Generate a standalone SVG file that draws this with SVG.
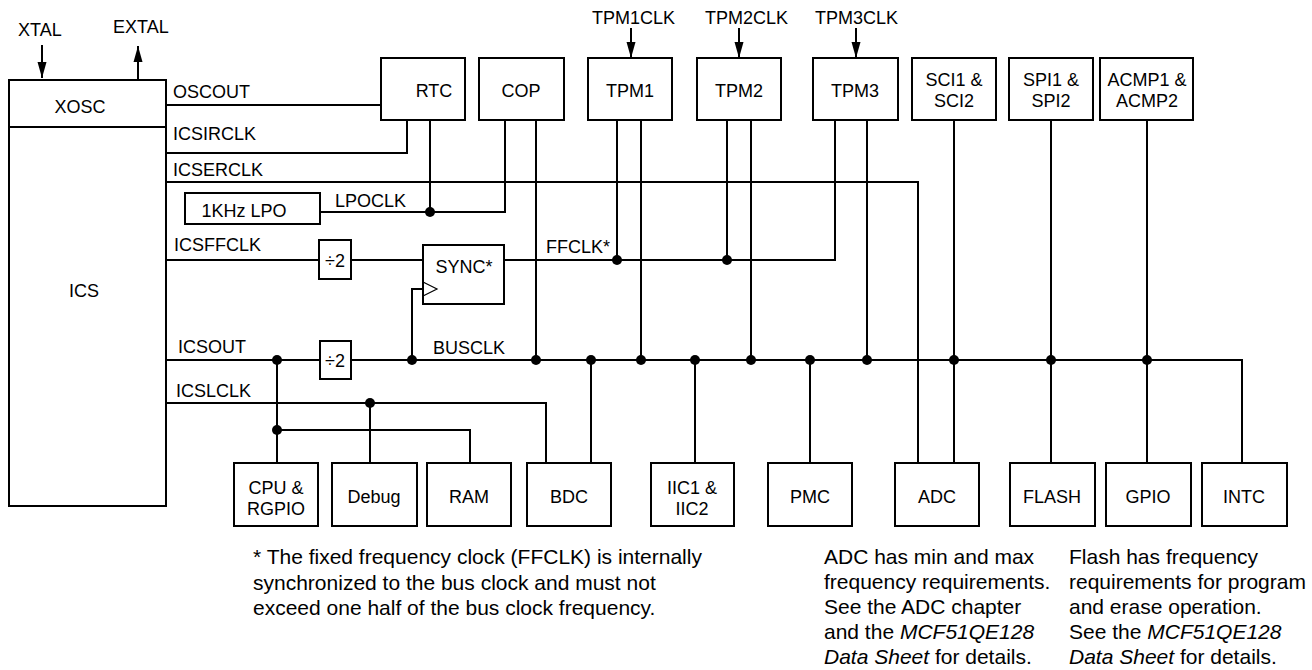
<svg xmlns="http://www.w3.org/2000/svg" width="1312" height="670" viewBox="0 0 1312 670">
<style>
.box{fill:#fff;stroke:#000;stroke-width:2}
.ln{fill:none;stroke:#000;stroke-width:2}
.thin{fill:none;stroke:#000;stroke-width:1.2}
text{font-family:"Liberation Sans",Arial,Helvetica,sans-serif;fill:#000}
.l{font-size:18px}
.c{font-size:18px;text-anchor:middle}
.n{font-size:21px}
.dot{fill:#000}
</style>
<defs>
<marker id="ah" markerUnits="userSpaceOnUse" markerWidth="18" markerHeight="10" refX="16" refY="5" orient="auto" viewBox="0 0 18 10">
<path d="M0,0.5 L16,5 L0,9.5 Z" fill="#000"/>
</marker>
</defs>
<rect width="1312" height="670" fill="#fff"/>

<g id="connectors">
<path class="ln" d="M166,105 H381"/>
<path class="ln" d="M166,153 H407 V120"/>
<path class="ln" d="M166,182 H918 V463"/>
<path class="ln" d="M430,120 V212"/>
<path class="ln" d="M320,212 H505 V120"/>
<path class="ln" d="M166,260 H319"/>
<path class="ln" d="M351,260 H423"/>
<path class="ln" d="M504,260 H835 V120"/>
<path class="ln" d="M617,120 V260"/>
<path class="ln" d="M727,120 V260"/>
<path class="ln" d="M412,360 V289 H423"/>
<path class="ln" d="M166,360 H320"/>
<path class="ln" d="M351,360 H1242 V463"/>
<path class="ln" d="M536,120 V360"/>
<path class="ln" d="M641,120 V360"/>
<path class="ln" d="M751,120 V360"/>
<path class="ln" d="M867,120 V360"/>
<path class="ln" d="M954,120 V463"/>
<path class="ln" d="M1051,120 V463"/>
<path class="ln" d="M1147,120 V463"/>
<path class="ln" d="M591,360 V463"/>
<path class="ln" d="M695,360 V463"/>
<path class="ln" d="M810,360 V463"/>
<path class="ln" d="M166,403 H546 V463"/>
<path class="ln" d="M370,403 V463"/>
<path class="ln" d="M277,360 V463"/>
<path class="ln" d="M277,430 H470 V463"/>
<path class="ln" d="M42,45 V78" marker-end="url(#ah)"/>
<path class="ln" d="M138,80 V46" marker-end="url(#ah)"/>
<path class="ln" d="M631,28 V58" marker-end="url(#ah)"/>
<path class="ln" d="M739,28 V58" marker-end="url(#ah)"/>
<path class="ln" d="M856,28 V58" marker-end="url(#ah)"/>
<circle class="dot" cx="430" cy="212" r="5"/>
<circle class="dot" cx="617" cy="260" r="5"/>
<circle class="dot" cx="727" cy="260" r="5"/>
<circle class="dot" cx="412" cy="360" r="5"/>
<circle class="dot" cx="536" cy="360" r="5"/>
<circle class="dot" cx="591" cy="360" r="5"/>
<circle class="dot" cx="641" cy="360" r="5"/>
<circle class="dot" cx="695" cy="360" r="5"/>
<circle class="dot" cx="751" cy="360" r="5"/>
<circle class="dot" cx="810" cy="360" r="5"/>
<circle class="dot" cx="867" cy="360" r="5"/>
<circle class="dot" cx="954" cy="360" r="5"/>
<circle class="dot" cx="1051" cy="360" r="5"/>
<circle class="dot" cx="1147" cy="360" r="5"/>
<circle class="dot" cx="277" cy="360" r="5"/>
<circle class="dot" cx="277" cy="430" r="5"/>
<circle class="dot" cx="370" cy="403" r="5"/>
<text class="l" x="18" y="36">XTAL</text>
<text class="l" x="113" y="33">EXTAL</text>
<text class="l" x="592" y="23.5">TPM1CLK</text>
<text class="l" x="705" y="23.5">TPM2CLK</text>
<text class="l" x="815" y="23.5">TPM3CLK</text>
<text class="l" x="173" y="98">OSCOUT</text>
<text class="l" x="173" y="140">ICSIRCLK</text>
<text class="l" x="173" y="176">ICSERCLK</text>
<text class="l" x="335" y="207">LPOCLK</text>
<text class="l" x="174" y="251">ICSFFCLK</text>
<text class="l" x="546" y="253">FFCLK*</text>
<text class="l" x="178" y="353">ICSOUT</text>
<text class="l" x="433" y="354">BUSCLK</text>
<text class="l" x="176" y="397">ICSLCLK</text>
</g>

<g id="ics">
<rect class="box" x="9" y="80" width="157" height="426"/>
<path class="ln" d="M9,127 H166"/>
<text class="c" x="80" y="113">XOSC</text>
<text class="c" x="84" y="297">ICS</text>
</g>
<g id="lpo"><rect class="box" x="185" y="193" width="135" height="31"/><text class="c" x="244" y="217">1KHz LPO</text></g>
<g id="div1"><rect class="box" x="319" y="240" width="32" height="39"/><text class="c" x="335" y="267">÷2</text></g>
<g id="div2"><rect class="box" x="320" y="341" width="31" height="38"/><text class="c" x="335" y="367">÷2</text></g>
<g id="sync"><rect class="box" x="423" y="245" width="81" height="59"/><path class="thin" d="M423,282 L437,289 L423,296"/><text class="c" x="464" y="273">SYNC*</text></g>

<g id="rtc"><rect class="box" x="381" y="58" width="84" height="62"/><text class="c" x="434" y="97">RTC</text></g>
<g id="cop"><rect class="box" x="479" y="58" width="85" height="62"/><text class="c" x="521" y="97">COP</text></g>
<g id="tpm1"><rect class="box" x="588" y="58" width="84" height="62"/><text class="c" x="630" y="97">TPM1</text></g>
<g id="tpm2"><rect class="box" x="697" y="58" width="84" height="62"/><text class="c" x="739" y="97">TPM2</text></g>
<g id="tpm3"><rect class="box" x="813" y="58" width="85" height="62"/><text class="c" x="855" y="97">TPM3</text></g>
<g id="sci"><rect class="box" x="912" y="58" width="84" height="62"/><text class="c" x="954" y="86">SCI1 &amp;</text><text class="c" x="954" y="107">SCI2</text></g>
<g id="spi"><rect class="box" x="1009" y="58" width="84" height="62"/><text class="c" x="1051" y="86">SPI1 &amp;</text><text class="c" x="1051" y="107">SPI2</text></g>
<g id="acmp"><rect class="box" x="1100" y="58" width="93" height="62"/><text class="c" x="1147" y="86">ACMP1 &amp;</text><text class="c" x="1147" y="107">ACMP2</text></g>

<g id="cpu"><rect class="box" x="234" y="463" width="84" height="63"/><text class="c" x="276" y="494">CPU &amp;</text><text class="c" x="276" y="515">RGPIO</text></g>
<g id="debug"><rect class="box" x="332" y="463" width="85" height="63"/><text class="c" x="374" y="503">Debug</text></g>
<g id="ram"><rect class="box" x="427" y="463" width="84" height="63"/><text class="c" x="469" y="503">RAM</text></g>
<g id="bdc"><rect class="box" x="527" y="463" width="84" height="63"/><text class="c" x="569" y="503">BDC</text></g>
<g id="iic"><rect class="box" x="651" y="463" width="83" height="63"/><text class="c" x="692" y="494">IIC1 &amp;</text><text class="c" x="692" y="515">IIC2</text></g>
<g id="pmc"><rect class="box" x="768" y="463" width="84" height="63"/><text class="c" x="810" y="503">PMC</text></g>
<g id="adc"><rect class="box" x="895" y="463" width="84" height="63"/><text class="c" x="937" y="503">ADC</text></g>
<g id="flash"><rect class="box" x="1010" y="463" width="85" height="63"/><text class="c" x="1052" y="503">FLASH</text></g>
<g id="gpio"><rect class="box" x="1106" y="463" width="85" height="63"/><text class="c" x="1148" y="503">GPIO</text></g>
<g id="intc"><rect class="box" x="1202" y="463" width="85" height="63"/><text class="c" x="1244" y="503">INTC</text></g>

<g id="notes">
<text class="n" x="253" y="564">* The fixed frequency clock (FFCLK) is internally</text>
<text class="n" x="253" y="589.5">synchronized to the bus clock and must not</text>
<text class="n" x="253" y="615">exceed one half of the bus clock frequency.</text>
<text class="n" x="824" y="564">ADC has min and max</text>
<text class="n" x="824" y="589">frequency requirements.</text>
<text class="n" x="824" y="614">See the ADC chapter</text>
<text class="n" x="824" y="639">and the <tspan font-style="italic">MCF51QE128</tspan></text>
<text class="n" x="824" y="664"><tspan font-style="italic">Data Sheet</tspan> for details.</text>
<text class="n" x="1069" y="564">Flash has frequency</text>
<text class="n" x="1069" y="589">requirements for program</text>
<text class="n" x="1069" y="614">and erase operation.</text>
<text class="n" x="1069" y="639">See the <tspan font-style="italic">MCF51QE128</tspan></text>
<text class="n" x="1069" y="664"><tspan font-style="italic">Data Sheet</tspan> for details.</text>
</g>
</svg>
